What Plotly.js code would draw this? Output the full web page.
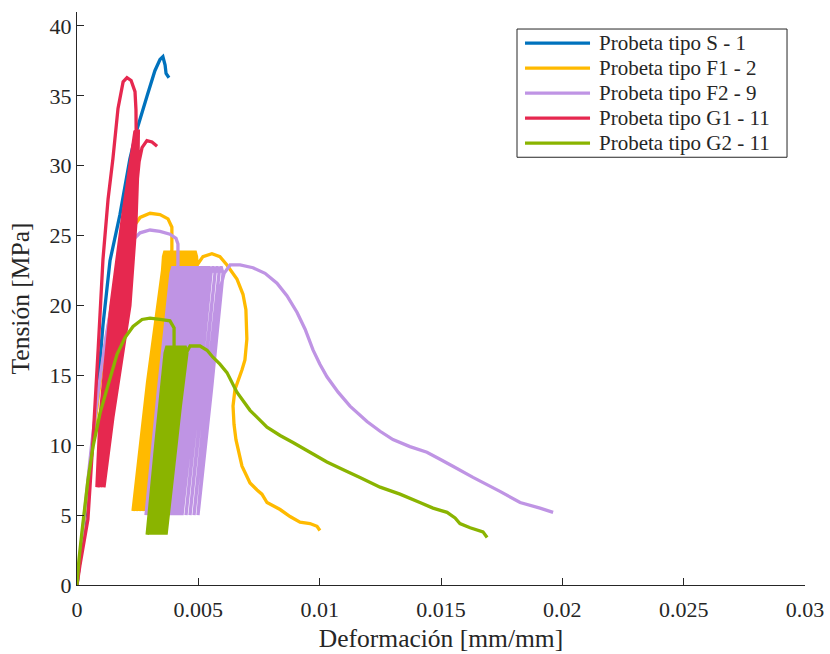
<!DOCTYPE html>
<html><head><meta charset="utf-8">
<script src="https://cdn.plot.ly/plotly-3.0.1.min.js"></script>
<style>body{margin:0;background:#fff}</style>
</head><body>
<div id="chart" style="width:830px;height:654px"></div>
<script>
// ---- axis ticks ----
const xTickVals = [0, 0.005, 0.01, 0.015, 0.02, 0.025, 0.03];
const xTickText = ['0', '0.005', '0.01', '0.015', '0.02', '0.025', '0.03'];
const yTickVals = [0, 5, 10, 15, 20, 25, 30, 35, 40];
const yTickText = ['0', '5', '10', '15', '20', '25', '30', '35', '40'];
const seriesNames = ['Probeta tipo S - 1', 'Probeta tipo F1 - 2', 'Probeta tipo F2 - 9', 'Probeta tipo G1 - 11', 'Probeta tipo G2 - 11'];

// ---- Probeta tipo S - 1 ----
const sStrain = [0, 0.00037, 0.00074, 0.00107, 0.00136, 0.00177, 0.00218, 0.00247, 0.00289, 0.00321, 0.00342, 0.00354, 0.00363, 0.00367, 0.00379];
const sStress = [0, 5.4, 11.8, 18.6, 23.2, 26.5, 30.5, 32.6, 35.0, 36.8, 37.6, 37.8, 37.2, 36.6, 36.3];

// ---- Probeta tipo F1 - 2 ----
const f1Strain = [0, 0.0003, 0.0006, 0.0009, 0.0012, 0.0015, 0.0019, 0.00231, 0.0026, 0.00301, 0.00342, 0.00375, 0.00391, 0.00391,
  0.00305, 0.002308,
  0.002906, 0.003524, 0.003565, 0.003627, 0.003689, 0.003730, 0.003091, 0.002431,
  0.003029, 0.003647, 0.003688, 0.003750, 0.003812, 0.003853, 0.003214, 0.002555,
  0.003153, 0.003771, 0.003812, 0.003874, 0.003936, 0.003977, 0.003338, 0.002679,
  0.003277, 0.003895, 0.003936, 0.003998, 0.004060, 0.004101, 0.003462, 0.002802,
  0.003400, 0.004018, 0.004059, 0.004121, 0.004183, 0.004224, 0.003585, 0.002926,
  0.003524, 0.004142, 0.004183, 0.004245, 0.004307, 0.004348, 0.003709, 0.003050,
  0.003648, 0.004266, 0.004307, 0.004369, 0.004431, 0.004472, 0.003833, 0.003173,
  0.003771, 0.004389, 0.004430, 0.004492, 0.004554, 0.004595, 0.003956, 0.003297,
  0.003895, 0.004513, 0.004554, 0.004616, 0.004678, 0.004719, 0.004080, 0.003420,
  0.004018, 0.004636, 0.004677, 0.004739, 0.004801, 0.004842, 0.004203, 0.003544,
  0.004142, 0.004760, 0.004801, 0.004863, 0.004925, 0.004966, 0.004327, 0.003668,
  0.004266, 0.004884, 0.00495, 0.00519, 0.00556, 0.00589, 0.00618, 0.00659, 0.00684, 0.00696, 0.00700, 0.00692, 0.00680, 0.00651,
  0.00643, 0.00647, 0.00655, 0.00680, 0.00713, 0.00742, 0.00762, 0.00783, 0.00837, 0.00878, 0.00919, 0.00960, 0.00989, 0.01001];
const f1Stress = [0, 4.8, 9.5, 13.8, 17.6, 20.8, 23.8, 25.6, 26.3, 26.6, 26.5, 26.2, 25.6, 24.0,
  14.5, 5.3,
  14.5, 22.5, 23.5, 23.9, 23.5, 22.5, 14.5, 5.3,
  14.5, 22.5, 23.5, 23.9, 23.5, 22.5, 14.5, 5.3,
  14.5, 22.5, 23.5, 23.9, 23.5, 22.5, 14.5, 5.3,
  14.5, 22.5, 23.5, 23.9, 23.5, 22.5, 14.5, 5.3,
  14.5, 22.5, 23.5, 23.9, 23.5, 22.5, 14.5, 5.3,
  14.5, 22.5, 23.5, 23.9, 23.5, 22.5, 14.5, 5.3,
  14.5, 22.5, 23.5, 23.9, 23.5, 22.5, 14.5, 5.3,
  14.5, 22.5, 23.5, 23.9, 23.5, 22.5, 14.5, 5.3,
  14.5, 22.5, 23.5, 23.9, 23.5, 22.5, 14.5, 5.3,
  14.5, 22.5, 23.5, 23.9, 23.5, 22.5, 14.5, 5.3,
  14.5, 22.5, 23.5, 23.9, 23.5, 22.5, 14.5, 5.3,
  14.5, 22.5, 22.9, 23.5, 23.7, 23.5, 22.9, 21.9, 20.8, 19.7, 17.6, 16.1, 15.4, 14.0,
  12.8, 11.5, 10.4, 8.5, 7.3, 6.8, 6.5, 5.9, 5.4, 4.9, 4.5, 4.4, 4.2, 3.9];

// ---- Probeta tipo F2 - 9 ----
const f2Strain = [0, 0.0003, 0.0006, 0.0009, 0.0012, 0.0015, 0.0019, 0.00231, 0.0026, 0.00301, 0.00342, 0.00383, 0.00408, 0.00416, 0.00416,
  0.00342, 0.002843,
  0.003358, 0.003873, 0.003956, 0.004038, 0.003543, 0.002967,
  0.003482, 0.003997, 0.004080, 0.004162, 0.003667, 0.003091,
  0.003606, 0.004121, 0.004204, 0.004286, 0.003791, 0.003214,
  0.003729, 0.004244, 0.004327, 0.004409, 0.003914, 0.003338,
  0.003853, 0.004368, 0.004451, 0.004533, 0.004038, 0.003462,
  0.003977, 0.004492, 0.004575, 0.004657, 0.004162, 0.003585,
  0.004100, 0.004615, 0.004698, 0.004780, 0.004285, 0.003709,
  0.004224, 0.004739, 0.004822, 0.004904, 0.004409, 0.003833,
  0.004348, 0.004863, 0.004946, 0.005028, 0.004533, 0.003956,
  0.004471, 0.004986, 0.005069, 0.005151, 0.004656, 0.004080,
  0.004595, 0.005110, 0.005193, 0.005275, 0.004780, 0.004203,
  0.004718, 0.005233, 0.005316, 0.005398, 0.004903, 0.004327,
  0.004842, 0.005357, 0.005440, 0.005522, 0.005048, 0.004492,
  0.005007, 0.005522, 0.005605, 0.005687, 0.005213, 0.004657,
  0.005172, 0.005687, 0.005770, 0.005852, 0.005378, 0.004822,
  0.005337, 0.005852, 0.005935, 0.006017, 0.005543, 0.004986,
  0.00523, 0.00548, 0.00569, 0.00589, 0.00606, 0.00631, 0.00672, 0.00725, 0.00775, 0.00824, 0.00865, 0.00907, 0.00940, 0.00973,
  0.01001, 0.01030, 0.01076, 0.01125, 0.01195, 0.01249, 0.01302, 0.01372, 0.01442, 0.01496, 0.01549, 0.01632, 0.01743, 0.01826, 0.01908, 0.01962];
const f2Stress = [0, 5.0, 10.0, 14.2, 17.8, 20.8, 23.3, 24.7, 25.2, 25.4, 25.3, 25.1, 24.8, 24.4, 22.9,
  14.0, 5.0,
  14.0, 22.3, 22.8, 22.3, 14.0, 5.0,
  14.0, 22.3, 22.8, 22.3, 14.0, 5.0,
  14.0, 22.3, 22.8, 22.3, 14.0, 5.0,
  14.0, 22.3, 22.8, 22.3, 14.0, 5.0,
  14.0, 22.3, 22.8, 22.3, 14.0, 5.0,
  14.0, 22.3, 22.8, 22.3, 14.0, 5.0,
  14.0, 22.3, 22.8, 22.3, 14.0, 5.0,
  14.0, 22.3, 22.8, 22.3, 14.0, 5.0,
  14.0, 22.3, 22.8, 22.3, 14.0, 5.0,
  14.0, 22.3, 22.8, 22.3, 14.0, 5.0,
  14.0, 22.3, 22.8, 22.3, 14.0, 5.0,
  14.0, 22.3, 22.8, 22.3, 14.0, 5.0,
  14.0, 22.3, 22.8, 22.3, 14.0, 5.0,
  14.0, 22.3, 22.8, 22.3, 14.0, 5.0,
  14.0, 22.3, 22.8, 22.3, 14.0, 5.0,
  14.0, 22.3, 22.8, 22.3, 14.0, 5.0,
  9.7, 14.0, 18.3, 21.1, 22.3, 22.9, 22.9, 22.7, 22.3, 21.6, 20.7, 19.5, 18.3, 16.8,
  15.8, 14.9, 13.8, 12.8, 11.7, 11.0, 10.4, 9.9, 9.5, 9.0, 8.5, 7.7, 6.7, 5.9, 5.5, 5.2];

// ---- Probeta tipo G1 - 11 ----
const g1Strain = [0, 0.00012, 0.00045, 0.00066, 0.00087, 0.00107, 0.00128, 0.00148, 0.00169, 0.00190, 0.00206, 0.00223, 0.00239, 0.00243,
  0.00245, 0.00239, 0.00214, 0.00144, 0.00082,
  0.00095, 0.00140, 0.00185, 0.00218, 0.00239, 0.00237, 0.00216, 0.00181, 0.00124, 0.00087,
  0.00100, 0.00148, 0.00192, 0.00223, 0.00243, 0.00241, 0.00223, 0.00190, 0.00129, 0.00093,
  0.00106, 0.00157, 0.00198, 0.00227, 0.00245, 0.00243, 0.00229, 0.00198, 0.00134, 0.00097,
  0.00111, 0.00165, 0.00204, 0.00229, 0.00247, 0.00245, 0.00233, 0.00206, 0.00139, 0.00103,
  0.00116, 0.00173, 0.00210, 0.00233, 0.00251, 0.00249, 0.00239, 0.00212, 0.00144, 0.00107,
  0.00122, 0.00179, 0.00214, 0.00235, 0.00253, 0.00251, 0.00243, 0.00218, 0.00148, 0.00111,
  0.00115, 0.00124, 0.00184, 0.00221, 0.00243, 0.00256, 0.00268, 0.00288, 0.00309, 0.00330];
const g1Stress = [0, 1.4, 4.7, 10.4, 16.8, 23.3, 27.6, 30.5, 34.1, 36.0, 36.3, 36.1, 35.3, 34.0,
  30, 26, 20, 12, 7,
  12, 20, 26, 30, 32.5, 30, 26, 20, 12, 7,
  12, 20, 26, 30, 32.5, 30, 26, 20, 12, 7,
  12, 20, 26, 30, 32.6, 30, 26, 20, 12, 7,
  12, 20, 26, 30, 32.6, 30, 26, 20, 12, 7,
  12, 20, 26, 30, 32.6, 30, 26, 20, 12, 7,
  12, 20, 26, 30, 32.6, 30, 26, 20, 12, 7,
  9, 12, 20, 25, 28, 30.3, 31.3, 31.8, 31.7, 31.4];

// ---- Probeta tipo G2 - 11 ----
const g2Strain = [0, 0.00008, 0.00021, 0.00033, 0.00045, 0.00066, 0.00095, 0.00128, 0.00165, 0.00198, 0.00231, 0.00268, 0.00301, 0.00342, 0.00383, 0.00400, 0.00400,
  0.00360, 0.00289,
  0.00326, 0.00363, 0.00371, 0.00379, 0.00334, 0.00301,
  0.00338, 0.00375, 0.00383, 0.00392, 0.00346, 0.00313,
  0.00350, 0.00387, 0.00396, 0.00404, 0.00359, 0.00326,
  0.00363, 0.00400, 0.00408, 0.00416, 0.00371, 0.00338,
  0.00375, 0.00412, 0.00420, 0.00429, 0.00383, 0.00350,
  0.00387, 0.00425, 0.00433, 0.00441, 0.00396, 0.00363,
  0.00400, 0.00437, 0.00445, 0.00453, 0.00408, 0.00367,
  0.00410, 0.00450, 0.00466, 0.00507, 0.00536, 0.00560, 0.00589, 0.00618, 0.00659, 0.00713, 0.00783, 0.00837,
  0.00890, 0.00960, 0.01030, 0.01104, 0.01166, 0.01249, 0.01331, 0.01413, 0.01467, 0.01525, 0.01558, 0.01578, 0.01620, 0.01673, 0.01690];
const g2Stress = [0, 1.8, 3.9, 5.7, 7.5, 9.9, 12.3, 14.3, 16.5, 17.7, 18.5, 19.0, 19.1, 19.0, 18.9, 18.4, 17.1,
  10.3, 3.6,
  10.3, 16.6, 17.1, 16.6, 10.3, 3.6,
  10.3, 16.6, 17.1, 16.6, 10.3, 3.6,
  10.3, 16.6, 17.1, 16.6, 10.3, 3.6,
  10.3, 16.6, 17.1, 16.6, 10.3, 3.6,
  10.3, 16.6, 17.1, 16.6, 10.3, 3.6,
  10.3, 16.6, 17.1, 16.6, 10.3, 3.6,
  10.3, 16.6, 17.1, 16.6, 10.3, 3.6,
  10.3, 16.6, 17.1, 17.1, 16.8, 16.3, 15.8, 15.2, 13.8, 12.5, 11.3, 10.7,
  10.2, 9.5, 8.8, 8.2, 7.7, 7.0, 6.5, 5.9, 5.5, 5.2, 4.8, 4.4, 4.1, 3.8, 3.4];

const colors = ['#0072BD', '#FFBA00', '#BF94E4', '#E6284F', '#8AB400'];
const xs = [sStrain, f1Strain, f2Strain, g1Strain, g2Strain];
const ys = [sStress, f1Stress, f2Stress, g1Stress, g2Stress];

const FONT = 'Liberation Serif';
const LW = 3.3;
const traces = xs.map((x, i) => ({
  type: 'scatter', mode: 'lines', x: x, y: ys[i], name: seriesNames[i], showlegend: false,
  line: {color: colors[i], width: LW, simplify: false}
}));

// ---- legend box (paper coordinates) ----
const legBox = {x0: 0.6044, x1: 0.9753, y0: 0.7465, y1: 0.9703};
const legLineX = [0.6154, 0.7047];
const legTextX = 0.7143;
const legRowY = [0.9458, 0.9021, 0.8584, 0.8147, 0.7710];
const shapes = [{type: 'rect', xref: 'paper', yref: 'paper', x0: legBox.x0, x1: legBox.x1, y0: legBox.y0, y1: legBox.y1,
  line: {color: '#262626', width: 1}, fillcolor: '#ffffff', layer: 'above'}];
const annotations = [];
seriesNames.forEach((n, i) => {
  shapes.push({type: 'line', xref: 'paper', yref: 'paper', x0: legLineX[0], x1: legLineX[1], y0: legRowY[i], y1: legRowY[i],
    line: {color: colors[i], width: LW}, layer: 'above'});
  annotations.push({xref: 'paper', yref: 'paper', x: legTextX, y: legRowY[i], xanchor: 'left', yanchor: 'middle',
    text: n, showarrow: false, font: {family: FONT, size: 21, color: '#262626'}});
});

const axisCommon = {
  showgrid: false, zeroline: false, showline: true, linecolor: '#262626', linewidth: 1,
  ticks: 'inside', ticklen: 7, tickwidth: 1, tickcolor: '#262626', mirror: false,
  tickfont: {family: FONT, size: 22, color: '#262626'}, automargin: false
};

const layout = {
  width: 830, height: 654,
  margin: {l: 77, r: 25, t: 12, b: 69},
  paper_bgcolor: '#ffffff', plot_bgcolor: '#ffffff',
  font: {family: FONT, color: '#262626'},
  showlegend: false,
  shapes: shapes,
  annotations: annotations,
  xaxis: Object.assign({}, axisCommon, {
    range: [0, 0.03], tickmode: 'array', tickvals: xTickVals, ticktext: xTickText,
    ticklabelstandoff: 5,
    title: {text: 'Deformación [mm/mm]', font: {family: FONT, size: 25.5, color: '#262626'}, standoff: 7}
  }),
  yaxis: Object.assign({}, axisCommon, {
    range: [0, 41], tickmode: 'array', tickvals: yTickVals, ticktext: yTickText,
    title: {text: 'Tensión [MPa]', font: {family: FONT, size: 25.5, color: '#262626'}, standoff: 12}
  })
};

Plotly.newPlot('chart', traces, layout, {staticPlot: true, displayModeBar: false});
</script>
</body></html>
